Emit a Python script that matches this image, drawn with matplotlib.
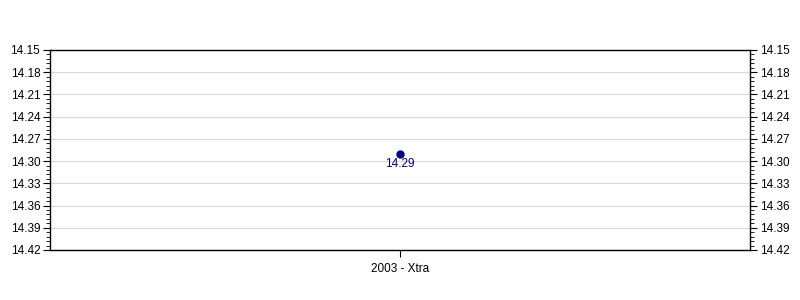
import numpy as np
import matplotlib.pyplot as plt
from matplotlib.ticker import FixedLocator, FormatStrFormatter

plt.rcParams['font.family'] = ['Liberation Sans', 'DejaVu Sans']

categories = ['2003 - Xtra']
values = [14.29]
value_labels = ['14.29']
y_ticks = [14.15, 14.18, 14.21, 14.24, 14.27, 14.30, 14.33, 14.36, 14.39, 14.42]

fig = plt.figure(figsize=(8, 3), dpi=100)
ax = fig.add_axes([50 / 800, 50 / 300, 700 / 800, 200 / 300])

x = list(range(len(categories)))
ax.plot(x, values, 'o', color='#000080', markersize=5, zorder=3)
for xi, v, lab in zip(x, values, value_labels):
    ax.annotate(lab, (xi, v), xytext=(0, -3), textcoords='offset points',
                ha='center', va='top', fontsize=8.5, color='#000080')

ax.set_xlim(-0.5, len(categories) - 0.5)
ax.set_xticks(x)
ax.set_xticklabels(categories, fontsize=8.5)

ax.set_ylim(y_ticks[-1], y_ticks[0])
ax.yaxis.set_major_locator(FixedLocator(y_ticks))
minor = np.linspace(y_ticks[0], y_ticks[-1], (len(y_ticks) - 1) * 5 + 1)
ax.yaxis.set_minor_locator(FixedLocator(minor))
ax.yaxis.set_major_formatter(FormatStrFormatter('%.2f'))
ax.grid(axis='y', color='#d9d9d9', linewidth=0.8)
ax.set_axisbelow(True)

ax.tick_params(axis='y', which='major', length=5, labelsize=8.5, left=True, right=True,
               labelleft=True, labelright=True, pad=2)
ax.tick_params(axis='y', which='minor', length=3, left=True, right=True)
ax.tick_params(axis='x', length=5, labelsize=8.5, pad=4)

for s in ax.spines.values():
    s.set_color('black')
    s.set_linewidth(1)

fig.savefig('out.png', dpi=100)
